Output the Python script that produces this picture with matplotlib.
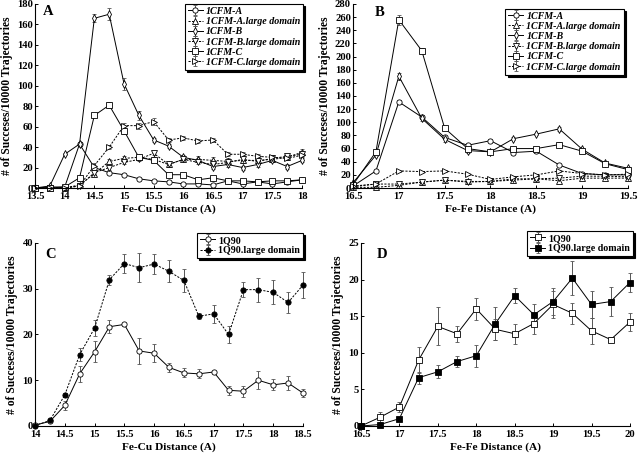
import numpy as np
import matplotlib
matplotlib.use("Agg")
import matplotlib.pyplot as plt
from matplotlib.ticker import FormatStrFormatter

plt.rcParams['font.family'] = 'Liberation Serif'
plt.rcParams['font.weight'] = 'bold'
plt.rcParams['axes.labelweight'] = 'bold'

# ---- panel A : Fe-Cu distance, 1CFM
xa = np.arange(13.5, 18.01, 0.25)
a_A = [0, 1, 1, 43, 20, 15, 13, 9, 7, 6, 4, 4, 3, 7, 4, 6, 4, 6, 8]
a_A_err = [0, 0, 0, 2, 1, 1, 1, 1, 1, 1, 1, 1, 1, 1, 1, 1, 1, 1, 1]
a_Al = [0, 0, 0, 3, 14, 26, 29, 30, 28, 23, 28, 28, 27, 26, 27, 27, 28, 30, 35]
a_Al_err = [0, 0, 0, 1, 2, 2, 2, 2, 2, 2, 2, 3, 3, 3, 3, 3, 3, 3, 3]
a_B = [0, 2, 33, 43, 166, 170, 102, 71, 47, 41, 30, 27, 21, 23, 20, 23, 27, 21, 27]
a_B_err = [0, 0, 1, 2, 4, 6, 6, 4, 2, 2, 2, 2, 2, 2, 2, 2, 2, 2, 2]
a_Bl = [0, 0, 0, 2, 15, 20, 25, 28, 34, 23, 28, 25, 23, 25, 28, 26, 29, 31, 33]
a_Bl_err = [0, 0, 0, 1, 2, 2, 2, 2, 2, 2, 2, 2, 2, 2, 2, 2, 2, 2, 2]
a_C = [0, 0, 1, 10, 71, 81, 56, 30, 27, 13, 13, 8, 10, 7, 7, 6, 7, 7, 8]
a_C_err = [0, 0, 0, 1, 2, 3, 3, 2, 2, 1, 1, 1, 1, 1, 1, 1, 1, 1, 1]
a_Cl = [0, 0, 0, 2, 22, 40, 61, 61, 65, 47, 49, 46, 47, 33, 33, 31, 30, 29, 32]
a_Cl_err = [0, 0, 0, 1, 2, 2, 3, 3, 3, 2, 2, 2, 2, 2, 2, 2, 2, 2, 2]

# ---- panel B : Fe-Fe distance, 1CFM
xb = np.arange(16.5, 19.51, 0.25)
b_A = [3, 26, 131, 108, 77, 65, 72, 54, 56, 35, 22, 20, 20]
b_A_err = [1, 2, 3, 3, 2, 2, 2, 2, 2, 2, 1, 1, 1]
b_Al = [1, 1, 4, 9, 12, 10, 10, 12, 14, 11, 15, 15, 15]
b_Al_err = [0, 0, 1, 1, 1, 1, 1, 1, 2, 2, 1, 1, 1]
b_B = [8, 50, 170, 106, 74, 57, 55, 75, 82, 90, 59, 38, 30]
b_B_err = [1, 2, 5, 4, 4, 3, 2, 2, 2, 3, 2, 2, 2]
b_Bl = [2, 6, 6, 9, 12, 9, 10, 14, 14, 15, 18, 18, 17]
b_Bl_err = [0, 1, 1, 1, 1, 1, 1, 1, 1, 1, 1, 1, 1]
b_C = [5, 55, 256, 209, 91, 60, 55, 60, 60, 66, 56, 37, 28]
b_C_err = [1, 3, 8, 4, 3, 2, 2, 3, 2, 4, 2, 2, 2]
b_Cl = [3, 6, 26, 25, 26, 21, 13, 17, 20, 26, 22, 20, 21]
b_Cl_err = [0, 1, 1, 1, 1, 1, 1, 1, 1, 1, 1, 1, 1]

# ---- panel C : Fe-Cu distance, 1Q90
xc = np.arange(14.0, 18.51, 0.25)
c_q = [0.2, 1.0, 4.5, 11.4, 16.2, 21.7, 22.2, 16.4, 15.9, 12.8, 11.6, 11.4, 11.8, 7.8, 7.6, 10.0, 9.0, 9.4, 7.2]
c_q_err = [0, 0.2, 1.0, 1.8, 2.3, 1.4, 0.3, 2.8, 2.0, 1.0, 1.0, 1.0, 0.3, 1.0, 1.2, 2.0, 1.2, 1.5, 0.8]
c_ql = [0.1, 1.2, 6.8, 15.6, 21.4, 32.0, 35.5, 34.6, 35.4, 33.8, 31.8, 24.0, 24.5, 20.0, 29.8, 29.8, 29.2, 27.0, 30.8]
c_ql_err = [0, 0.2, 0.5, 1.5, 1.7, 1.1, 2.0, 3.2, 2.1, 2.4, 2.6, 0.7, 1.9, 1.8, 1.6, 2.6, 2.6, 2.2, 2.8]

# ---- panel D : Fe-Fe distance, 1Q90
xd = np.arange(16.5, 20.01, 0.25)
d_q = [0, 1.2, 2.6, 9.0, 13.6, 12.6, 16.0, 13.2, 12.6, 14.0, 16.6, 15.4, 13.0, 11.8, 14.2]
d_q_err = [0, 0.7, 0.7, 1.8, 2.6, 1.1, 1.5, 1.4, 1.4, 1.5, 1.8, 1.4, 1.8, 0.3, 1.2]
d_ql = [0, 0.2, 1.0, 6.6, 7.4, 8.8, 9.6, 14.0, 17.8, 15.2, 17.0, 20.2, 16.6, 17.0, 19.6]
d_ql_err = [0, 0.1, 0.2, 0.8, 0.9, 0.8, 1.5, 2.2, 1.0, 1.5, 1.8, 2.3, 1.8, 2.0, 1.3]

labels_1cfm = ['1CFM-A', '1CFM-A.large domain', '1CFM-B',
               '1CFM-B.large domain', '1CFM-C', '1CFM-C.large domain']
markers_1cfm = ['o', '^', 'd', 'v', 's', '>']
ylab = '# of Succeses/10000 Trajectories'

fig = plt.figure(figsize=(6.38, 4.54), dpi=100)
axA = fig.add_axes([0.0549, 0.5859, 0.4185, 0.4053])
axB = fig.add_axes([0.5533, 0.5859, 0.4310, 0.4053])
axC = fig.add_axes([0.0549, 0.0617, 0.4200, 0.4031])
axD = fig.add_axes([0.5658, 0.0617, 0.4216, 0.4031])

dashes = (0, (2.2, 1.4))


def style(ax, xlim, ylim, xt, yt, xlabel, letter, lx, ly):
    ax.set_xlim(*xlim)
    ax.set_ylim(*ylim)
    ax.set_xticks(xt)
    ax.set_yticks(yt)
    ax.xaxis.set_major_formatter(FormatStrFormatter('%g'))
    ax.yaxis.set_major_formatter(FormatStrFormatter('%g'))
    for s in ['top', 'right']:
        ax.spines[s].set_visible(False)
    for s in ['left', 'bottom']:
        ax.spines[s].set_linewidth(0.8)
    ax.tick_params(direction='in', length=2.5, width=0.7, labelsize=7.6)
    ax.tick_params(axis='x', pad=3)
    ax.tick_params(axis='y', pad=1.5)
    ax.set_xlabel(xlabel, fontsize=8.2, labelpad=2)
    ax.set_ylabel(ylab, fontsize=8.4, labelpad=3)
    ax.text(lx, ly, letter, transform=ax.transAxes, fontsize=10.5, fontweight='bold',
            va='top', ha='left')
    ax.patch.set_visible(False)


def draw(ax, x, ys, errs, labels, markers, styles, filled):
    for y, e, lab, m, ls, f in zip(ys, errs, labels, markers, styles, filled):
        ax.errorbar(x, y, yerr=e, color='k', lw=0.7, ls=ls, marker=m, ms=3.8,
                    mfc='k' if f else 'white', mec='k', mew=0.6,
                    ecolor='#555555', elinewidth=0.7,
                    capsize=1.2, capthick=0.6, label=lab, clip_on=False)


def legend(ax, anchor, fs, italic):
    leg = ax.legend(loc='upper right', bbox_to_anchor=anchor, borderaxespad=0,
                    fancybox=False, edgecolor='k', framealpha=1,
                    handlelength=1.5, handletextpad=0.3, labelspacing=0.12,
                    borderpad=0.3,
                    shadow={'color': 'k', 'alpha': 1, 'ox': 1.5, 'oy': -1.5},
                    prop={'size': fs, 'weight': 'bold',
                          'style': 'italic' if italic else 'normal'})
    leg.get_frame().set_linewidth(0.8)


cfm_styles = ['-', dashes, '-', dashes, '-', dashes]
no_fill = [False] * 6

draw(axA, xa, [a_A, a_Al, a_B, a_Bl, a_C, a_Cl],
     [a_A_err, a_Al_err, a_B_err, a_Bl_err, a_C_err, a_Cl_err],
     labels_1cfm, markers_1cfm, cfm_styles, no_fill)
style(axA, (13.5, 18), (0, 180), np.arange(13.5, 18.01, 0.5), np.arange(0, 181, 20),
      'Fe-Cu Distance (A)', 'A', 0.03, 0.995)
legend(axA, (1.005, 1.0), 7.2, True)

draw(axB, xb, [b_A, b_Al, b_B, b_Bl, b_C, b_Cl],
     [b_A_err, b_Al_err, b_B_err, b_Bl_err, b_C_err, b_Cl_err],
     labels_1cfm, markers_1cfm, cfm_styles, no_fill)
style(axB, (16.5, 19.5), (0, 280), np.arange(16.5, 19.51, 0.5), np.arange(0, 281, 20),
      'Fe-Fe Distance (A)', 'B', 0.08, 0.99)
legend(axB, (0.985, 0.975), 7.2, True)

draw(axC, xc, [c_q, c_ql], [c_q_err, c_ql_err], ['1Q90', '1Q90.large domain'],
     ['o', 'o'], ['-', dashes], [False, True])
style(axC, (14, 18.5), (0, 40), np.arange(14, 18.51, 0.5), np.arange(0, 41, 10),
      'Fe-Cu Distance (A)', 'C', 0.04, 0.97)
legend(axC, (1.0, 1.055), 7.2, False)

draw(axD, xd, [d_q, d_ql], [d_q_err, d_ql_err], ['1Q90', '1Q90.large domain'],
     ['s', 's'], ['-', '-'], [False, True])
style(axD, (16.5, 20), (0, 25), np.arange(16.5, 20.01, 0.5), np.arange(0, 26, 5),
      'Fe-Fe Distance (A)', 'D', 0.06, 0.97)
legend(axD, (1.011, 1.066), 7.2, False)

fig.savefig('out.png', dpi=100)
